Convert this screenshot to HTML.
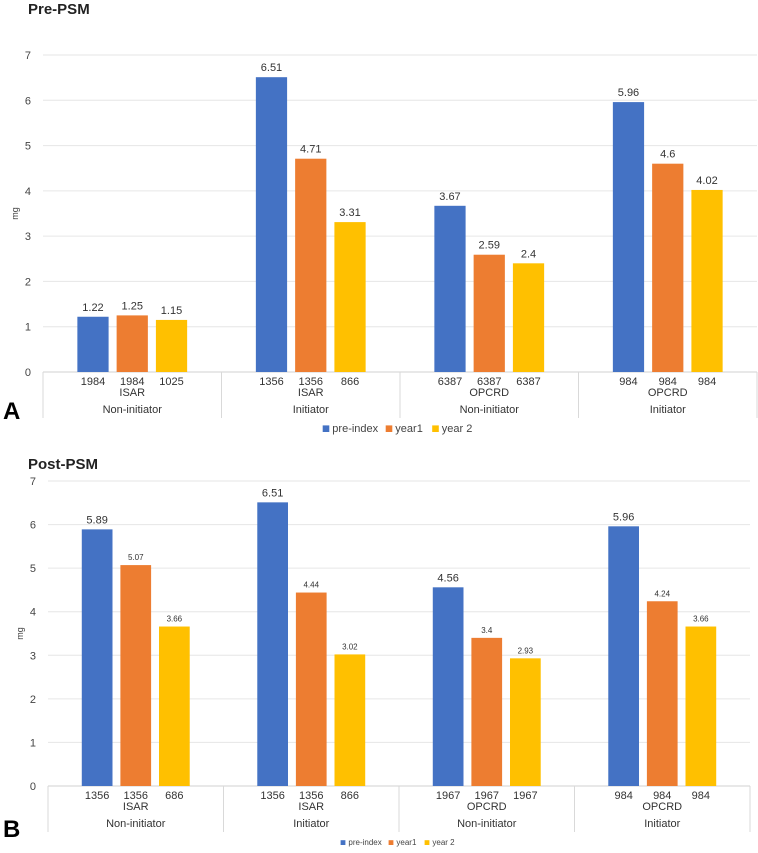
<!DOCTYPE html>
<html><head><meta charset="utf-8"><style>
body{margin:0;background:#fff;width:758px;height:848px;overflow:hidden;font-family:"Liberation Sans",sans-serif}
svg text{font-family:"Liberation Sans",sans-serif}
</style></head><body>
<svg id="s" width="758" height="848" xmlns="http://www.w3.org/2000/svg">
<text x="28" y="14" font-size="15" font-weight="bold" fill="#222">Pre-PSM</text>
<text x="28" y="469" font-size="15" font-weight="bold" fill="#222">Post-PSM</text>
<text x="3" y="419" font-size="24" font-weight="bold" fill="#000">A</text>
<text x="3" y="837" font-size="24" font-weight="bold" fill="#000">B</text>
</svg>
<script>
const groups = ["Non-initiator","Initiator","Non-initiator","Initiator"];
const series = ["pre-index","year1","year 2"];
const colors = ["#4472C4","#ED7D31","#FFC000"];
const yTicks = [0,1,2,3,4,5,6,7];
const preValues = [[1.22,1.25,1.15],[6.51,4.71,3.31],[3.67,2.59,2.4],[5.96,4.6,4.02]];
const preLabels = ["1.22","1.25","1.15","6.51","4.71","3.31","3.67","2.59","2.4","5.96","4.6","4.02"];
const preN = [["1984","1984","1025"],["1356","1356","866"],["6387","6387","6387"],["984","984","984"]];
const postValues = [[5.89,5.07,3.66],[6.51,4.44,3.02],[4.56,3.4,2.93],[5.96,4.24,3.66]];
const postLabels = ["5.89","5.07","3.66","6.51","4.44","3.02","4.56","3.4","2.93","5.96","4.24","3.66"];
const postN = [["1356","1356","686"],["1356","1356","866"],["1967","1967","1967"],["984","984","984"]];
const sources = ["ISAR","ISAR","OPCRD","OPCRD"];

const svg = document.getElementById('s');
const NS = "http://www.w3.org/2000/svg";
function mk(tag, attrs, txt){const e=document.createElementNS(NS,tag);for(const k in attrs)e.setAttribute(k,attrs[k]);if(txt!==undefined)e.textContent=txt;svg.appendChild(e);return e;}

function chart(cfg){
  const {left,right,y0,y7,values,labels,ns,key,smallLbl,legendY,legendSize}=cfg;
  const y=v=>y0-(v/7)*(y0-y7);
  yTicks.forEach(t=>{
    const g=mk('line',{x1:left,x2:right,y1:y(t),y2:y(t),stroke:t===0?'#d0d0d0':'#e6e6e6','stroke-width':1});
    
    
    const tl=mk('text',{x:left-12,y:y(t)+4,'font-size':11,'text-anchor':'end',fill:'#444'},String(t));
    
    
  });
  const yt=mk('text',{x:0,y:0,'font-size':9,fill:'#444','text-anchor':'middle',transform:`translate(${left-25},${(y0+y7)/2}) rotate(-90)`},'mg');
  
  
  const gw=(right-left)/groups.length;
  for(let i=0;i<=groups.length;i++){
    const l=mk('line',{x1:left+i*gw,x2:left+i*gw,y1:y0,y2:y0+46,stroke:'#d9d9d9','stroke-width':1});
    
    
  }
  const bw=gw*0.175, gap=gw*0.045;
  groups.forEach((gname,gi)=>{
    const cx=left+gi*gw+gw/2;
    series.forEach((s,si)=>{
      const bx=cx+(si-1)*(bw+gap)-bw/2;
      const v=values[gi][si];
      const r=mk('rect',{x:bx,y:y(v),width:bw,height:y0-y(v),fill:colors[si]});
      
      
      const small=smallLbl && si>0;
      const vl=mk('text',{x:bx+bw/2,y:y(v)-(small?5:6),'font-size':small?8:11,'text-anchor':'middle',fill:'#333'},labels[gi*3+si]);
      
      
      const nl=mk('text',{x:bx+bw/2,y:y0+13,'font-size':11,'text-anchor':'middle',fill:'#333'},ns[gi][si]);
      
      
    });
    const src=mk('text',{x:cx,y:y0+24,'font-size':11,'text-anchor':'middle',fill:'#333'},sources[gi]);
    
    
    const gl=mk('text',{x:cx,y:y0+41,'font-size':11,'text-anchor':'middle',fill:'#333'},gname);
    
    
  });
  const fs=legendSize, sq=fs*0.6;
  const widths=[fs*5.0,fs*3.5,fs*4.1];
  const total=widths.reduce((a,b)=>a+b,0)+16;
  let lx=(left+right)/2-total/2;
  series.forEach((s,si)=>{
    const r=mk('rect',{x:lx,y:legendY-sq,width:sq,height:sq,fill:colors[si]});
    
    
    const t=mk('text',{x:lx+sq+3,y:legendY,'font-size':fs,fill:'#444'},s);
    
    
    lx+=widths[si]+8;
  });
}
chart({left:43,right:757,y0:372,y7:55,values:preValues,labels:preLabels,ns:preN,key:'pre',smallLbl:false,legendY:432,legendSize:11});
chart({left:48,right:750,y0:786,y7:481,values:postValues,labels:postLabels,ns:postN,key:'post',smallLbl:true,legendY:845,legendSize:8});
</script>
</body></html>
